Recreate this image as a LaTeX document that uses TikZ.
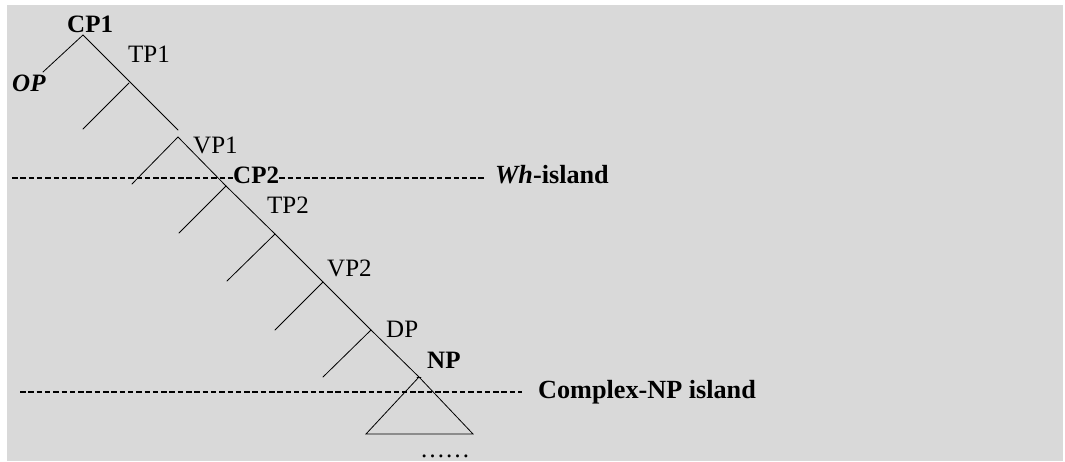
\documentclass[tikz,border=0pt]{standalone}
\usepackage{fontspec}
\setmainfont{Liberation Serif}
\definecolor{bg}{HTML}{D9D9D9}
\begin{document}
\begin{tikzpicture}[x=1pt,y=-1pt,
  lbl/.style={anchor=base west,inner sep=0pt,font=\fontsize{25}{29}\selectfont},
  blbl/.style={anchor=base west,inner sep=0pt,font=\fontsize{25}{29}\selectfont\bfseries},
  isl/.style={anchor=base west,inner sep=0pt,font=\fontsize{26.2}{30}\selectfont\bfseries},
  branch/.style={line width=0.8pt,line cap=round},
  island/.style={line width=2pt,dash pattern=on 5.5pt off 2.8pt}]
\useasboundingbox (0,0) rectangle (1065,461);
\fill[bg] (7,5) rectangle (1063,461);
% vertices
\coordinate (cp1v) at (83,35);
\coordinate (opend) at (43,72);
\coordinate (cp1end) at (178,130);
\coordinate (tp1v) at (129,83);
\coordinate (tp1l) at (83,129);
\coordinate (vp1v) at (178,137);
\coordinate (vp1l) at (132,184);
\coordinate (cp2v) at (226,186);
\coordinate (cp2l) at (179,233);
\coordinate (tp2v) at (275,234);
\coordinate (tp2l) at (227,281);
\coordinate (vp2v) at (323,282);
\coordinate (vp2l) at (275,330);
\coordinate (dpv) at (371,330);
\coordinate (dpl) at (323,377);
\coordinate (npv) at (419,377);
\coordinate (npl) at (366,434);
\coordinate (npr) at (473,434);
% labels
\node[blbl] (CP1) at (67,32) {CP1};
\node[lbl] (TP1) at (128,62) {TP1};
\node[blbl,font=\fontsize{25}{29}\selectfont\bfseries\itshape] (OP) at (12,91) {OP};
\node[lbl] (VP1) at (193,153) {VP1};
\node[blbl,fill=bg] (CP2) at (233,183) {CP2};
\node[lbl] (TP2) at (267,213) {TP2};
\node[lbl] (VP2) at (327,276) {VP2};
\node[lbl] (DP) at (386,337) {DP};
\node[blbl] (NP) at (427,368) {NP};
\node[isl] (WH) at (495,183) {\itshape Wh\upshape-island};
\node[isl] (CNP) at (538,398) {Complex-NP island};
\node[lbl,text depth=0pt] (dots) at (420,457) {……};
% tree
\draw[branch] (opend) -- (cp1v) -- (cp1end);
\draw[branch] (tp1l) -- (tp1v);
\draw[branch] (vp1l) -- (vp1v) -- (cp2v);
\draw[branch] (cp2l) -- (cp2v) -- (tp2v) -- (vp2v) -- (dpv) -- (npv) -- (npr) -- (npl) -- (npv);
\draw[branch] (tp2l) -- (tp2v);
\draw[branch] (vp2l) -- (vp2v);
\draw[branch] (dpl) -- (dpv);
\draw[branch] ([xshift=-2pt]npv) -- ([xshift=2pt]npv);
% islands
\coordinate (wl) at (12,178);
\coordinate (wr) at (485,178);
\draw[island] (wl) -- (wl -| CP2.west);
\draw[island] (wr -| CP2.east) -- (wr);
\coordinate (cl) at (20,392);
\coordinate (cr) at (522,392);
\draw[island] (cl) -- (cr);
\end{tikzpicture}
\end{document}
